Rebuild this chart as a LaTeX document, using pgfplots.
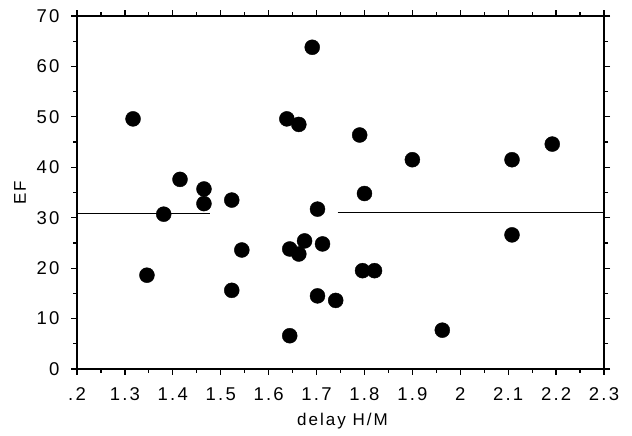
\documentclass[border=0pt]{standalone}
\usepackage{pgfplots}
\pgfplotsset{compat=1.18}
\usepackage{fontspec}
\setmainfont{Liberation Sans}
\newfontfamily\lblfont[LetterSpace=12]{Liberation Sans}

\begin{document}
\begin{tikzpicture}[x=1pt,y=1pt]
\path[use as bounding box] (0,0) rectangle (632,436);
\begin{axis}[
    at={(77pt,67pt)}, anchor=south west,
    scale only axis, width=527pt, height=353pt,
    xmin=1.2, xmax=2.3, ymin=0, ymax=70,
    xtick={1.2,1.3,1.4,1.5,1.6,1.7,1.8,1.9,2.0,2.1,2.2,2.3},
    xticklabels={.2,1.3,1.4,1.5,1.6,1.7,1.8,1.9,2,2.1,2.2,2.3},
    ytick={0,10,20,30,40,50,60,70},
    yticklabels={0,10,20,30,40,50,60,70},
    minor x tick num=1, minor y tick num=1,
    tick align=outside,
    major tick length=6pt, minor tick length=4pt,
    every tick/.style={black, line width=1.2pt},
    axis line style={black, line width=1.8pt},
    tick label style={font=\lblfont\fontsize{18.5}{20}\selectfont},
    xticklabel shift=9pt, yticklabel shift=8pt,
    xlabel={delay H/M}, ylabel={EF},
    label style={font=\lblfont\fontsize{17}{19}\selectfont},
    xlabel style={yshift=-6pt, xshift=2pt},
    ylabel style={yshift=4pt},
    clip=false]
  \addplot[black, line width=1.6pt, mark=none] coordinates {(1.2,30.8) (1.477,30.8)};
  \addplot[black, line width=1.6pt, mark=none] coordinates {(1.744,31.0) (2.3,31.0)};
  \addplot[only marks, mark=*, mark size=7.5pt, black, mark options={fill=black}]
    coordinates {
      (1.317,49.6) (1.346,18.6) (1.381,30.7) (1.415,37.6)
      (1.465,35.7) (1.465,32.8) (1.523,33.5) (1.523,15.6)
      (1.544,23.6) (1.638,49.6) (1.663,48.5) (1.644,6.6)
      (1.644,23.8) (1.663,22.8) (1.675,25.4) (1.691,63.8)
      (1.702,31.7) (1.702,14.5) (1.7125,24.8) (1.740,13.6)
      (1.790,46.4) (1.800,34.8) (1.796,19.5) (1.821,19.5)
      (1.900,41.5) (1.9625,7.7) (2.108,41.5) (2.108,26.6)
      (2.192,44.6)};
\end{axis}
\end{tikzpicture}
\end{document}
